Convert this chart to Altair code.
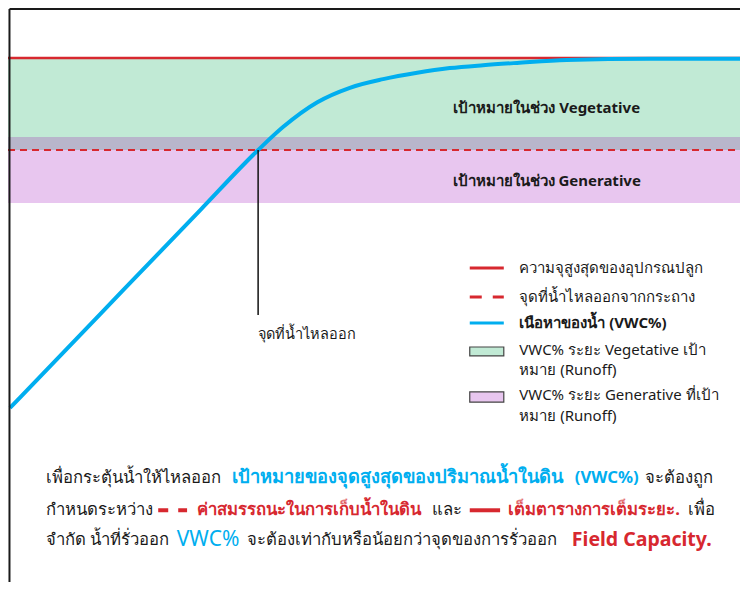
import altair as alt
import pandas as pd

# ---- data (x: relative time 0-100, y: VWC % on the chart's scale) ----
curve_x = [0.27, 12.43, 25.95, 33.78, 37.16, 41.8, 46.2, 50.7, 55.3, 59.7, 64.2, 68.8, 75.5, 86.8, 100]
curve_y = [30.8, 47.0, 65.0, 75.4, 79.4, 83.7, 86.2, 87.7, 88.8, 89.6, 90.1, 90.5, 91.0, 91.2, 91.2]

max_capacity = 91.35      # red solid line
runoff_point = 75.43      # red dashed line
band_top = [91.35, 77.68, 75.43]
band_bottom = [77.68, 75.43, 66.26]
band_colors = ["#c1ead5", "#b8b6cb", "#e8c6ef"]

runoff_x = 33.8
runoff_line_bottom = 46.9

band_label_text = ["เป้าหมายในช่วง Vegetative", "เป้าหมายในช่วง Generative"]
band_label_x = [72.8, 72.8]
band_label_y = [82.7, 70.1]

point_label_text = ["จุดที่น้ำไหลออก"]
point_label_x = [33.8]
point_label_y = [43.4]

# legend
leg_sym_x0 = 62.4
leg_sym_x1 = 67.0
leg_text_x = 69.1
leg_solid_y = [55.0]
leg_dash_y = [50.0]
leg_blue_y = [45.5]
leg_rect_top = [41.35, 33.6]
leg_rect_bottom = [39.8, 31.8]
leg_rect_color = ["#c1ead5", "#e8c6ef"]
leg_text = ["ความจุสูงสุดของอุปกรณปลูก", "จุดที่น้ำไหลออกจากกระถาง",
            "VWC% ระยะ Vegetative เป้า", "หมาย (Runoff)",
            "VWC% ระยะ Generative ที่เป้า", "หมาย (Runoff)"]
leg_text_y = [55.0, 50.0, 40.8, 37.4, 33.0, 29.4]
leg_bold_text = ["เนือหาของน้ำ (VWC%)"]
leg_bold_y = [45.5]

# caption segments, grouped by style
cap_dark_text = ["เพื่อกระตุ้นน้ำให้ไหลออก", "จะต้องถูก", "กำหนดระหว่าง", "และ", "เพื่อ",
                 "จำกัด น้ำที่รั่วออก", "จะต้องเท่ากับหรือน้อยกว่าจุดของการรั่วออก"]
cap_dark_x = [5.14, 86.1, 5.14, 57.3, 91.9, 5.14, 32.3]
cap_dark_y = [18.7, 18.7, 13.1, 13.1, 13.1, 8.0, 8.0]

cap_blue_thai_text = ["เป้าหมายของจุดสูงสุดของปริมาณน้ำในดิน"]
cap_blue_thai_x = [30.3]
cap_blue_thai_y = [18.7]

cap_blue_bold_text = ["(VWC%)"]
cap_blue_bold_x = [76.6]
cap_blue_bold_y = [18.7]

cap_red_bold_text = ["ค่าสมรรถนะในการเก็บน้ำในดิน", "เต็มตารางการเต็มระยะ."]
cap_red_bold_x = [25.5, 67.6]
cap_red_bold_y = [13.1, 13.1]

cap_blue_latin_text = ["VWC%"]
cap_blue_latin_x = [22.8]
cap_blue_latin_y = [8.0]

cap_red_latin_text = ["Field Capacity."]
cap_red_latin_x = [76.2]
cap_red_latin_y = [8.0]

cap_dash_x = [20.3, 24.2]
cap_solid_x = [62.4, 66.5]
cap_mark_y = 13.1

RED = "#d7282f"
BLUE = "#00aeef"
DARK = "#1a1a1a"
FONT = "Noto Sans"

xs = alt.Scale(domain=[0, 98.92], nice=False, zero=False)
ys = alt.Scale(domain=[0.69, 100], nice=False, zero=False)


def X(f):
    return alt.X(f, type="quantitative", scale=xs, axis=None)


def Y(f):
    return alt.Y(f, type="quantitative", scale=ys, axis=None)


def text_layer(texts, xv, yv, size, color, weight="normal", align="left"):
    df = pd.DataFrame({"t": texts, "x": xv, "y": yv})
    return alt.Chart(df).mark_text(
        font=FONT, fontSize=size, fontWeight=weight, color=color, align=align, baseline="middle"
    ).encode(x=X("x"), y=Y("y"), text="t:N")


bands_df = pd.DataFrame({"x0": 0, "x1": 100, "top": band_top, "bottom": band_bottom, "c": band_colors})
bands = alt.Chart(bands_df).mark_rect().encode(
    x=X("x0"), x2="x1", y=Y("top"), y2="bottom", color=alt.Color("c:N", scale=None))

red_solid = alt.Chart(pd.DataFrame({"x0": [0], "x1": [100], "y": [max_capacity]})).mark_rule(
    color=RED, strokeWidth=2.5).encode(x=X("x0"), x2="x1", y=Y("y"))
red_dash = alt.Chart(pd.DataFrame({"x0": [0], "x1": [100], "y": [runoff_point]})).mark_rule(
    color=RED, strokeWidth=2.2, strokeDash=[7, 5]).encode(x=X("x0"), x2="x1", y=Y("y"))

curve = alt.Chart(pd.DataFrame({"x": curve_x, "y": curve_y})).mark_line(
    color=BLUE, strokeWidth=4, interpolate="monotone").encode(x=X("x"), y=Y("y"))

vline = alt.Chart(pd.DataFrame({"x": [runoff_x], "y0": [runoff_point], "y1": [runoff_line_bottom]})).mark_rule(
    color="#111", strokeWidth=1.5).encode(x=X("x"), y=Y("y0"), y2="y1")

frame_df = pd.DataFrame({"x0": [0.2, 0.2], "x1": [0.2, 100], "y0": [0.69, 99.83], "y1": [99.83, 99.83]})
frame = alt.Chart(frame_df).mark_rule(color=DARK, strokeWidth=2).encode(
    x=X("x0"), x2="x1", y=Y("y0"), y2="y1")

band_lbl = text_layer(band_label_text, band_label_x, band_label_y, 15, DARK, "bold", "center")
pt_lbl = text_layer(point_label_text, point_label_x, point_label_y, 14.5, DARK)

leg_solid = alt.Chart(pd.DataFrame({"x0": leg_sym_x0, "x1": leg_sym_x1, "y": leg_solid_y})).mark_rule(
    color=RED, strokeWidth=3).encode(x=X("x0"), x2="x1", y=Y("y"))
leg_dash = alt.Chart(pd.DataFrame({"x0": leg_sym_x0, "x1": leg_sym_x1, "y": leg_dash_y})).mark_rule(
    color=RED, strokeWidth=3, strokeDash=[12, 11]).encode(x=X("x0"), x2="x1", y=Y("y"))
leg_blue = alt.Chart(pd.DataFrame({"x0": leg_sym_x0, "x1": leg_sym_x1, "y": leg_blue_y})).mark_rule(
    color=BLUE, strokeWidth=3).encode(x=X("x0"), x2="x1", y=Y("y"))
leg_rects = alt.Chart(pd.DataFrame({"x0": leg_sym_x0, "x1": leg_sym_x1, "top": leg_rect_top,
                                    "bottom": leg_rect_bottom, "c": leg_rect_color})).mark_rect(
    stroke="#444", strokeWidth=1.2).encode(
    x=X("x0"), x2="x1", y=Y("top"), y2="bottom", color=alt.Color("c:N", scale=None))
leg_txt = text_layer(leg_text, leg_text_x, leg_text_y, 15, DARK)
leg_bold = text_layer(leg_bold_text, leg_text_x, leg_bold_y, 15, DARK, "bold")

cap_dark = text_layer(cap_dark_text, cap_dark_x, cap_dark_y, 16.7, DARK)
cap_blue_thai = text_layer(cap_blue_thai_text, cap_blue_thai_x, cap_blue_thai_y, 18.3, BLUE, "bold")
cap_blue_bold = text_layer(cap_blue_bold_text, cap_blue_bold_x, cap_blue_bold_y, 16.7, BLUE, "bold")
cap_red_bold = text_layer(cap_red_bold_text, cap_red_bold_x, cap_red_bold_y, 16.7, RED, "bold")
cap_blue_latin = text_layer(cap_blue_latin_text, cap_blue_latin_x, cap_blue_latin_y, 21, BLUE)
cap_red_latin = text_layer(cap_red_latin_text, cap_red_latin_x, cap_red_latin_y, 19.5, RED, "bold")

cap_dash = alt.Chart(pd.DataFrame({"x0": [cap_dash_x[0]], "x1": [cap_dash_x[1]], "y": [cap_mark_y]})).mark_rule(
    color=RED, strokeWidth=4, strokeDash=[10, 10]).encode(x=X("x0"), x2="x1", y=Y("y"))
cap_solid = alt.Chart(pd.DataFrame({"x0": [cap_solid_x[0]], "x1": [cap_solid_x[1]], "y": [cap_mark_y]})).mark_rule(
    color=RED, strokeWidth=4).encode(x=X("x0"), x2="x1", y=Y("y"))

chart = alt.layer(
    bands, red_solid, red_dash, curve, vline, frame, band_lbl, pt_lbl,
    leg_solid, leg_dash, leg_blue, leg_rects, leg_txt, leg_bold,
    cap_dark, cap_blue_thai, cap_blue_bold, cap_red_bold, cap_blue_latin, cap_red_latin, cap_dash, cap_solid
).properties(
    width=732, height=574, padding=0,
    autosize=alt.AutoSizeParams(type="none"),
    background="white"
).configure_view(stroke=None)

chart.save("out.html", embed_options={"renderer": "svg", "actions": False})
